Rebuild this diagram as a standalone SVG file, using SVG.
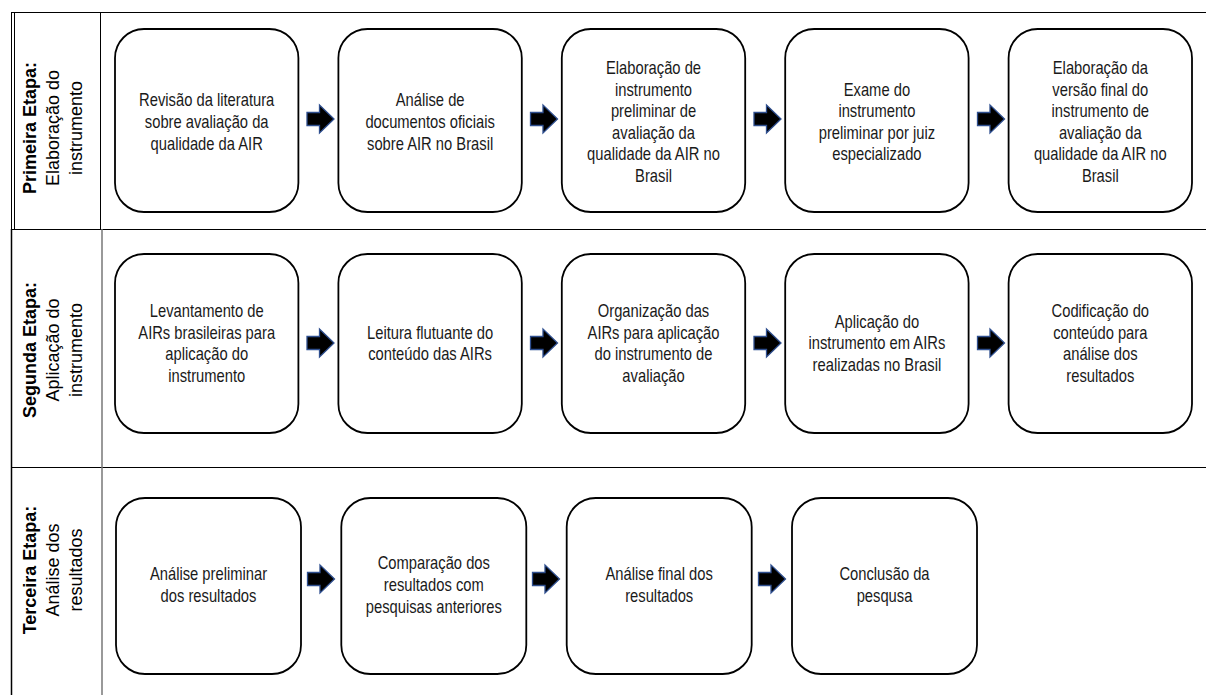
<svg xmlns="http://www.w3.org/2000/svg" xmlns:xlink="http://www.w3.org/1999/xlink" width="1206" height="695" viewBox="0 0 1206 695">
<style>
.grid{stroke:#000;stroke-width:1;fill:none}
.grid2{stroke:#777;stroke-width:1.5;fill:none}
.box{fill:#fff;stroke:#000;stroke-width:1.8}
.t{font-family:"Liberation Sans",Arial,sans-serif;font-size:18px;fill:#1a1a1a;text-anchor:middle}
.lb{font-family:"Liberation Sans",Arial,sans-serif;font-size:18px;fill:#000;text-anchor:middle}
.b{font-weight:bold}
</style>
<defs>
<path id="arr" d="M0,-6.5 H12.5 V-14 L27,0 L12.5,14 V6.5 H0 Z" fill="#000" stroke="#2f4f8f" stroke-width="1.3" stroke-linejoin="miter"/>
</defs>
<rect width="1206" height="695" fill="#fff"/>
<g id="table">
<line class="grid" x1="11" y1="12.5" x2="1206" y2="12.5"/>
<line class="grid" x1="11" y1="229.5" x2="1206" y2="229.5"/>
<line class="grid" x1="11" y1="467.5" x2="1206" y2="467.5"/>
<line class="grid" x1="11.5" y1="12" x2="11.5" y2="229"/>
<line class="grid" x1="14.5" y1="12" x2="14.5" y2="229"/>
<line class="grid" x1="11.5" y1="229" x2="11.5" y2="695" style="stroke-width:1.5"/>
<line class="grid" x1="100.5" y1="12" x2="100.5" y2="229"/>
<line class="grid2" x1="102" y1="229" x2="102" y2="695"/>
</g>
<g id="labels">
<text class="lb" transform="translate(36,128) rotate(-90)"><tspan class="b" x="0" y="0">Primeira Etapa:</tspan><tspan x="0" y="23">Elaboração do</tspan><tspan x="0" y="46">instrumento</tspan></text>
<text class="lb" transform="translate(36,350) rotate(-90)"><tspan class="b" x="0" y="0">Segunda Etapa:</tspan><tspan x="0" y="23">Aplicação do</tspan><tspan x="0" y="46">instrumento</tspan></text>
<text class="lb" transform="translate(36,570) rotate(-90)"><tspan class="b" x="0" y="0">Terceira Etapa:</tspan><tspan x="0" y="23">Análise dos</tspan><tspan x="0" y="46">resultados</tspan></text>
</g>
<g id="n1">
<rect class="box" x="115" y="29" width="183.4" height="183" rx="29"/>
<text class="t" transform="translate(206.7,0) scale(0.82,1)"><tspan x="0" y="106.4">Revisão da literatura</tspan><tspan x="0" y="128">sobre avaliação da</tspan><tspan x="0" y="149.6">qualidade da AIR</tspan></text>
</g>
<g id="n2">
<rect class="box" x="338.4" y="29" width="183.4" height="183" rx="29"/>
<text class="t" transform="translate(430.1,0) scale(0.82,1)"><tspan x="0" y="106.4">Análise de</tspan><tspan x="0" y="128">documentos oficiais</tspan><tspan x="0" y="149.6">sobre AIR no Brasil</tspan></text>
</g>
<g id="n3">
<rect class="box" x="561.8" y="29" width="183.4" height="183" rx="29"/>
<text class="t" transform="translate(653.5,0) scale(0.82,1)"><tspan x="0" y="74">Elaboração de</tspan><tspan x="0" y="95.6">instrumento</tspan><tspan x="0" y="117.2">preliminar de</tspan><tspan x="0" y="138.8">avaliação da</tspan><tspan x="0" y="160.4">qualidade da AIR no</tspan><tspan x="0" y="182">Brasil</tspan></text>
</g>
<g id="n4">
<rect class="box" x="785.2" y="29" width="183.4" height="183" rx="29"/>
<text class="t" transform="translate(876.9,0) scale(0.82,1)"><tspan x="0" y="95.6">Exame do</tspan><tspan x="0" y="117.2">instrumento</tspan><tspan x="0" y="138.8">preliminar por juiz</tspan><tspan x="0" y="160.4">especializado</tspan></text>
</g>
<g id="n5">
<rect class="box" x="1008.6" y="29" width="183.4" height="183" rx="29"/>
<text class="t" transform="translate(1100.3,0) scale(0.82,1)"><tspan x="0" y="74">Elaboração da</tspan><tspan x="0" y="95.6">versão final do</tspan><tspan x="0" y="117.2">instrumento de</tspan><tspan x="0" y="138.8">avaliação da</tspan><tspan x="0" y="160.4">qualidade da AIR no</tspan><tspan x="0" y="182">Brasil</tspan></text>
</g>
<g id="n6">
<rect class="box" x="115" y="254" width="183.4" height="179" rx="29"/>
<text class="t" transform="translate(206.7,0) scale(0.82,1)"><tspan x="0" y="317">Levantamento de</tspan><tspan x="0" y="339">AIRs brasileiras para</tspan><tspan x="0" y="360">aplicação do</tspan><tspan x="0" y="382">instrumento</tspan></text>
</g>
<g id="n7">
<rect class="box" x="338.4" y="254" width="183.4" height="179" rx="29"/>
<text class="t" transform="translate(430.1,0) scale(0.82,1)"><tspan x="0" y="339">Leitura flutuante do</tspan><tspan x="0" y="360">conteúdo das AIRs</tspan></text>
</g>
<g id="n8">
<rect class="box" x="561.8" y="254" width="183.4" height="179" rx="29"/>
<text class="t" transform="translate(653.5,0) scale(0.82,1)"><tspan x="0" y="317">Organização das</tspan><tspan x="0" y="339">AIRs para aplicação</tspan><tspan x="0" y="360">do instrumento de</tspan><tspan x="0" y="382">avaliação</tspan></text>
</g>
<g id="n9">
<rect class="box" x="785.2" y="254" width="183.4" height="179" rx="29"/>
<text class="t" transform="translate(876.9,0) scale(0.82,1)"><tspan x="0" y="328">Aplicação do</tspan><tspan x="0" y="349.5">instrumento em AIRs</tspan><tspan x="0" y="371">realizadas no Brasil</tspan></text>
</g>
<g id="n10">
<rect class="box" x="1008.6" y="254" width="183.4" height="179" rx="29"/>
<text class="t" transform="translate(1100.3,0) scale(0.82,1)"><tspan x="0" y="317">Codificação do</tspan><tspan x="0" y="339">conteúdo para</tspan><tspan x="0" y="360">análise dos</tspan><tspan x="0" y="382">resultados</tspan></text>
</g>
<g id="n11">
<rect class="box" x="116" y="498" width="185" height="176" rx="29"/>
<text class="t" transform="translate(208.5,0) scale(0.82,1)"><tspan x="0" y="580">Análise preliminar</tspan><tspan x="0" y="602">dos resultados</tspan></text>
</g>
<g id="n12">
<rect class="box" x="341.3" y="498" width="185" height="176" rx="29"/>
<text class="t" transform="translate(433.8,0) scale(0.82,1)"><tspan x="0" y="569.5">Comparação dos</tspan><tspan x="0" y="591">resultados com</tspan><tspan x="0" y="612.6">pesquisas anteriores</tspan></text>
</g>
<g id="n13">
<rect class="box" x="566.7" y="498" width="185" height="176" rx="29"/>
<text class="t" transform="translate(659.2,0) scale(0.82,1)"><tspan x="0" y="580">Análise final dos</tspan><tspan x="0" y="602">resultados</tspan></text>
</g>
<g id="n14">
<rect class="box" x="792" y="498" width="185" height="176" rx="29"/>
<text class="t" transform="translate(884.5,0) scale(0.82,1)"><tspan x="0" y="580">Conclusão da</tspan><tspan x="0" y="602">pesqusa</tspan></text>
</g>
<g id="connectors">
<use xlink:href="#arr" x="307" y="119"/>
<use xlink:href="#arr" x="530.5" y="119"/>
<use xlink:href="#arr" x="754" y="119"/>
<use xlink:href="#arr" x="977.5" y="119"/>
<use xlink:href="#arr" x="307" y="343"/>
<use xlink:href="#arr" x="530.5" y="343"/>
<use xlink:href="#arr" x="754" y="343"/>
<use xlink:href="#arr" x="977.5" y="343"/>
<use xlink:href="#arr" x="307.5" y="579"/>
<use xlink:href="#arr" x="532.5" y="579"/>
<use xlink:href="#arr" x="758.5" y="579"/>
</g>
</svg>
